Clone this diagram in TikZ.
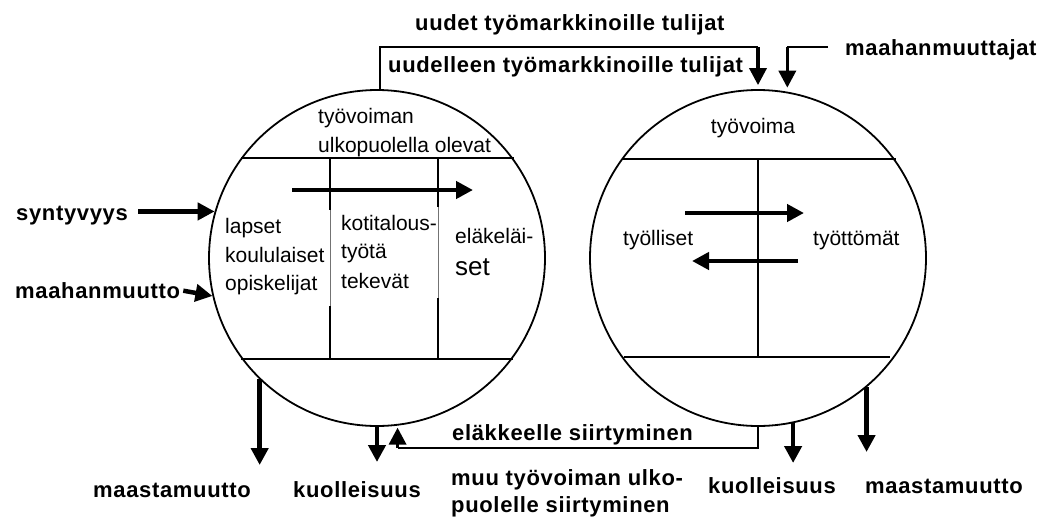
\documentclass[tikz,border=0pt]{standalone}
\usepackage{fontspec}
\setmainfont{Liberation Sans}
\newfontfamily\labelfont[LetterSpace=3]{Liberation Sans}
\usetikzlibrary{arrows.meta}

\begin{document}
\begin{tikzpicture}[x=1pt,y=-1pt,
  ring/.style={circle, draw, line width=1.8pt, minimum size=336pt, inner sep=0pt},
  divider/.style={line width=1.8pt},
  faint/.style={line width=0.6pt, black!55},
  link/.style={line width=2pt},
  flow/.style={line width=4.5pt, -{Triangle[length=17pt,width=17pt]}},
  flowlink/.style={line width=3.5pt, -{Triangle[length=17pt,width=17pt]}},
  blabel/.style={font=\labelfont\bfseries\fontsize{22}{26}\selectfont, inner sep=0pt, anchor=base west},
  plain/.style={font=\fontsize{21}{28}\selectfont, inner sep=0pt, anchor=base west},
]
\useasboundingbox (0,0) rectangle (1044,517);
\fill[white] (0,0) rectangle (1044,517);

% the two population stocks
\node[ring] (L) at (377,258) {};
\node[ring] (R) at (758,258) {};

% helper levels
\coordinate (topbar) at (0,47);
\coordinate (botbar) at (0,448);

% --- left circle: outside the labour force
\draw[divider] (241,158) -- (514,158);
\draw[divider] (241,359) -- (513,359);
\draw[divider] (330,158) -- (330,210);
\draw[faint]   (330,210) -- (330,306);
\draw[divider] (330,306) -- (330,359);
\draw[divider] (438,158) -- (438,207);
\draw[faint]   (438,207) -- (438,298);
\draw[divider] (438,298) -- (438,359);

\node[plain] (o1) at (318,123) {työvoiman};
\node[plain] (o2) at (318,152) {ulkopuolella olevat};
\node[plain] (a1) at (225,233) {lapset};
\node[plain] (a2) at (225,262) {koululaiset};
\node[plain] (a3) at (225,290) {opiskelijat};
\node[plain] (b1) at (341,230) {kotitalous-};
\node[plain] (b2) at (341,258) {työtä};
\node[plain] (b3) at (341,288) {tekevät};
\node[plain] (c1) at (455,243) {eläkeläi-};
\node[plain, font=\fontsize{26}{30}\selectfont] (c2) at (455,275) {set};

\coordinate (ageS) at (292,190);
\coordinate (ageE) at (473,190);
\draw[flow] (ageS) -- (ageE);

% --- right circle: labour force
\draw[divider] (622,159) -- (896,159);
\draw[divider] (624,357) -- (890,357);
\draw[divider] (758,159) -- (758,357);

\node[plain, anchor=base] (lf) at (753,133) {työvoima};
\node[plain] (emp) at (623,245) {työlliset};
\node[plain] (une) at (813,245) {työttömät};

\coordinate (euS) at (685,213);
\coordinate (euE) at (804,213);
\coordinate (ueS) at (798,261);
\coordinate (ueE) at (692,261);
\draw[flow] (euS) -- (euE);
\draw[flow] (ueS) -- (ueE);

% --- inflows at the top
\node[blabel] (new) at (415,30) {uudet työmarkkinoille tulijat};
\node[blabel] (re) at (388,72) {uudelleen työmarkkinoille tulijat};
\node[blabel] (immR) at (845,55) {maahanmuuttajat};
\coordinate (immStart) at (828,47);

\draw[link] (L.89) -- (L.89 |- topbar) -- (R.north |- topbar);
\draw[flowlink, shorten >=4pt] (R.north |- topbar) -- (R.north);
\draw[link] (immStart) -- (R.80 |- topbar);
\draw[flowlink, shorten >=4pt] (R.80 |- topbar) -- (R.80);

% --- inflows at the left
\node[blabel] (birth) at (16,220) {syntyvyys};
\node[blabel] (immL) at (15,298) {maahanmuutto};
\draw[flow, shorten <=10pt] (L.164.5 -| birth.east) -- (L.164.5);
\draw[flow, shorten <=3pt] (immL.east) -- (L.193);

% --- outflows at the bottom
\coordinate (tipA) at (0,465);
\coordinate (tipB) at (0,462);
\coordinate (tipC) at (0,463);
\coordinate (tipD) at (0,452);
\node[blabel] (emL) at (93,497) {maastamuutto};
\node[blabel] (deL) at (293,497) {kuolleisuus};
\node[blabel] (deR) at (708,493) {kuolleisuus};
\node[blabel] (emR) at (865,493) {maastamuutto};
\draw[flow] (L.226) -- (L.226 |- tipA);
\draw[flow] (L.south) -- (L.south |- tipB);
\draw[flow] (R.282) -- (R.282 |- tipC);
\draw[flow] (R.310.4) -- (R.310.4 |- tipD);

% --- transfers back out of the labour force
\node[blabel] (ret) at (452,440) {eläkkeelle siirtyminen};
\node[blabel] (oth1) at (451,485) {muu työvoiman ulko-};
\node[blabel] (oth2) at (451,512) {puolelle siirtyminen};
\draw[link] (R.south) -- (R.south |- botbar) -- (L.277 |- botbar);
\draw[flowlink, shorten >=2pt] (L.277 |- botbar) -- (L.277);
\end{tikzpicture}
\end{document}
